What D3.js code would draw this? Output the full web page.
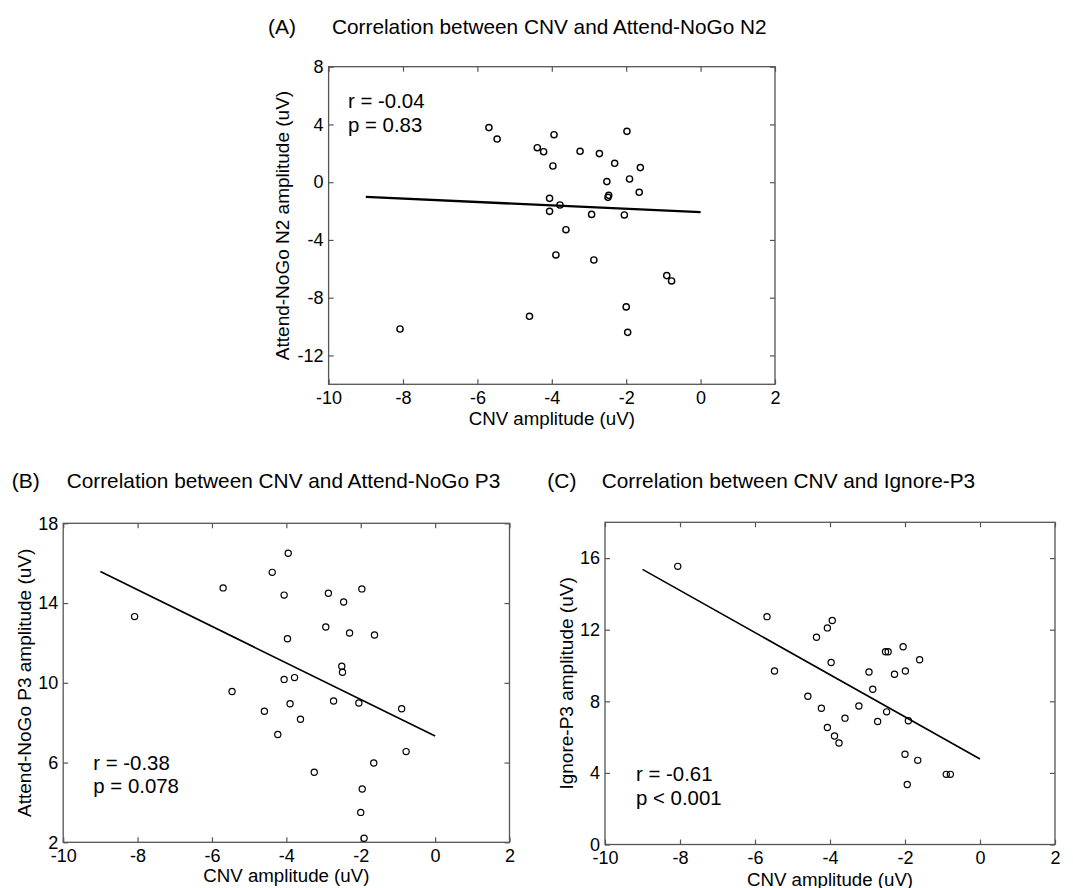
<!DOCTYPE html>
<html>
<head>
<meta charset="utf-8">
<script src="https://cdn.jsdelivr.net/npm/d3@7"></script>
<style>
  body { margin: 0; background: #fff; }
  svg text { font-family: "Liberation Sans", Arial, Helvetica, sans-serif; }
</style>
</head>
<body>
<div id="figure"></div>
<script>
// CNV amplitude (x) and ERP amplitude (y) for each subject
const cnvA = [-5.69, -5.47, -4.39, -4.22, -3.94, -3.97, -3.24, -2.72, -1.98, -2.31,
              -1.62, -2.52, -1.91, -1.65, -2.47, -2.49, -4.06, -3.78, -4.06, -2.93,
              -2.05, -3.62, -3.89, -2.87, -0.91, -0.78, -2.00, -4.60, -8.08, -1.96];
const n2A  = [3.78, 2.99, 2.39, 2.11, 3.29, 1.12, 2.14, 1.98, 3.52, 1.31,
              1.01, 0.04, 0.22, -0.70, -0.91, -1.05, -1.12, -1.58, -2.02, -2.23,
              -2.27, -3.29, -5.04, -5.39, -6.47, -6.84, -8.64, -9.29, -10.17, -10.40];

const cnvB = [-3.95, -4.38, -5.70, -4.06, -1.97, -2.87, -2.46, -8.08, -2.94, -2.30,
              -1.63, -3.97, -2.51, -2.49, -3.78, -4.06, -5.46, -2.73, -2.05, -3.90,
              -0.90, -4.59, -3.62, -4.23, -0.78, -1.65, -3.25, -1.96, -2.00, -1.91];
const p3B  = [16.50, 15.54, 14.76, 14.40, 14.71, 14.49, 14.05, 13.32, 12.80, 12.50,
              12.40, 12.21, 10.83, 10.53, 10.26, 10.17, 9.56, 9.09, 8.99, 8.95,
              8.70, 8.57, 8.17, 7.41, 6.55, 5.98, 5.51, 4.67, 3.50, 2.20];

const cnvC = [-8.06, -5.68, -3.94, -4.07, -4.36, -2.05, -2.52, -2.45, -1.61, -3.97,
              -5.48, -2.96, -1.99, -2.28, -2.86, -4.59, -3.23, -4.23, -2.49, -3.60,
              -2.73, -1.91, -4.07, -3.88, -3.76, -2.00, -1.66, -0.90, -0.79, -1.94];
const p3C  = [15.54, 12.73, 12.51, 12.10, 11.58, 11.05, 10.77, 10.77, 10.32, 10.17,
              9.69, 9.64, 9.69, 9.51, 8.67, 8.28, 7.74, 7.61, 7.41, 7.06,
              6.87, 6.91, 6.54, 6.06, 5.67, 5.04, 4.70, 3.92, 3.92, 3.35];

// regression line end points (x from -9 to 0)
const fitX  = [-9, 0];
const fitA  = [-1.02, -2.08];
const fitB  = [15.58, 7.33];
const fitC  = [15.37, 4.78];

// axis ticks
const xTicks  = [-10, -8, -6, -4, -2, 0, 2];
const yTicksA = [-12, -8, -4, 0, 4, 8];
const yTicksB = [2, 6, 10, 14, 18];
const yTicksC = [0, 4, 8, 12, 16];

const panels = [
  { tag: "(A)", title: "Correlation between CNV and Attend-NoGo N2",
    xs: cnvA, ys: n2A, fit: fitA, yDomain: [-14, 8], yTicks: yTicksA,
    yLabel: "Attend-NoGo N2 amplitude (uV)", stats: ["r = -0.04", "p = 0.83"],
    box: { left: 328.6, right: 775, top: 66.7, bottom: 384.3 },
    tagX: 268, titleX: 332, titleY: 34, xLabelY: 425, yLabelX: 289,
    statX: 348, statY: [108, 132], lineW: 2.3, dotW: 1.4 },
  { tag: "(B)", title: "Correlation between CNV and Attend-NoGo P3",
    xs: cnvB, ys: p3B, fit: fitB, yDomain: [2, 18], yTicks: yTicksB,
    yLabel: "Attend-NoGo P3 amplitude (uV)", stats: ["r = -0.38", "p = 0.078"],
    box: { left: 63.2, right: 509.5, top: 523.3, bottom: 842.3 },
    tagX: 11.7, titleX: 66.7, titleY: 487.5, xLabelY: 881.7, yLabelX: 30.5,
    statX: 93.3, statY: [770, 793.3], lineW: 1.6, dotW: 1.2 },
  { tag: "(C)", title: "Correlation between CNV and Ignore-P3",
    xs: cnvC, ys: p3C, fit: fitC, yDomain: [0, 18], yTicks: yTicksC,
    yLabel: "Ignore-P3 amplitude (uV)", stats: ["r = -0.61", "p < 0.001"],
    box: { left: 605, right: 1055, top: 522.3, bottom: 844.5 },
    tagX: 547.3, titleX: 601.7, titleY: 487.5, xLabelY: 886, yLabelX: 572.5,
    statX: 636, statY: [780.7, 805], lineW: 1.6, dotW: 1.2 }
];

const svg = d3.select("#figure")
  .append("svg")
    .attr("width", 1073)
    .attr("height", 888);

const boxColor = "#555";
const plain = d => String(d); // hyphen minus like the original, not d3's U+2212

panels.forEach(function(p) {
  const b = p.box;

  const x = d3.scaleLinear().domain([-10, 2]).range([b.left, b.right]);
  const y = d3.scaleLinear().domain(p.yDomain).range([b.bottom, b.top]);

  // titles
  svg.append("text")
    .attr("x", p.tagX).attr("y", p.titleY)
    .attr("font-size", 21)
    .text(p.tag);
  svg.append("text")
    .attr("x", p.titleX).attr("y", p.titleY)
    .attr("font-size", 20.8)
    .text(p.title);

  // ticks pointing inward on all four sides
  const bottom = svg.append("g")
    .attr("transform", `translate(0,${b.bottom})`)
    .call(d3.axisBottom(x).tickValues(xTicks).tickFormat(plain)
      .tickSizeInner(-5).tickSizeOuter(0).tickPadding(7));
  svg.append("g")
    .attr("transform", `translate(0,${b.top})`)
    .call(d3.axisTop(x).tickValues(xTicks).tickSizeInner(-5).tickSizeOuter(0).tickFormat(""));
  const left = svg.append("g")
    .attr("transform", `translate(${b.left},0)`)
    .call(d3.axisLeft(y).tickValues(p.yTicks).tickFormat(plain)
      .tickSizeInner(-5).tickSizeOuter(0).tickPadding(5));
  svg.append("g")
    .attr("transform", `translate(${b.right},0)`)
    .call(d3.axisRight(y).tickValues(p.yTicks).tickSizeInner(-5).tickSizeOuter(0).tickFormat(""));

  svg.selectAll(".domain").remove();
  svg.selectAll(".tick line").attr("stroke", boxColor).attr("stroke-width", 1.2);
  [bottom, left].forEach(g => g.selectAll("text")
    .attr("fill", "#000")
    .attr("font-size", 18)
    .attr("font-family", '"Liberation Sans", Arial, sans-serif'));

  // frame
  svg.append("rect")
    .attr("x", b.left).attr("y", b.top)
    .attr("width", b.right - b.left).attr("height", b.bottom - b.top)
    .attr("fill", "none")
    .attr("stroke", boxColor)
    .attr("stroke-width", 1.3);

  // axis labels
  svg.append("text")
    .attr("x", (b.left + b.right) / 2).attr("y", p.xLabelY)
    .attr("text-anchor", "middle")
    .attr("font-size", 18.7)
    .text("CNV amplitude (uV)");
  svg.append("text")
    .attr("transform", `translate(${p.yLabelX},${(b.top + b.bottom) / 2}) rotate(-90)`)
    .attr("text-anchor", "middle")
    .attr("font-size", 19)
    .text(p.yLabel);

  // regression line
  svg.append("line")
    .attr("x1", x(fitX[0])).attr("y1", y(p.fit[0]))
    .attr("x2", x(fitX[1])).attr("y2", y(p.fit[1]))
    .attr("stroke", "#000")
    .attr("stroke-width", p.lineW);

  // subjects
  svg.append("g")
    .selectAll("circle")
    .data(p.xs.map((v, i) => [v, p.ys[i]]))
    .join("circle")
      .attr("cx", d => x(d[0]))
      .attr("cy", d => y(d[1]))
      .attr("r", 3.1)
      .attr("fill", "none")
      .attr("stroke", "#000")
      .attr("stroke-width", p.dotW);

  // stats
  svg.append("g")
    .selectAll("text")
    .data(p.stats)
    .join("text")
      .attr("x", p.statX)
      .attr("y", (d, i) => p.statY[i])
      .attr("font-size", 20.4)
      .text(d => d);
});
</script>
</body>
</html>
